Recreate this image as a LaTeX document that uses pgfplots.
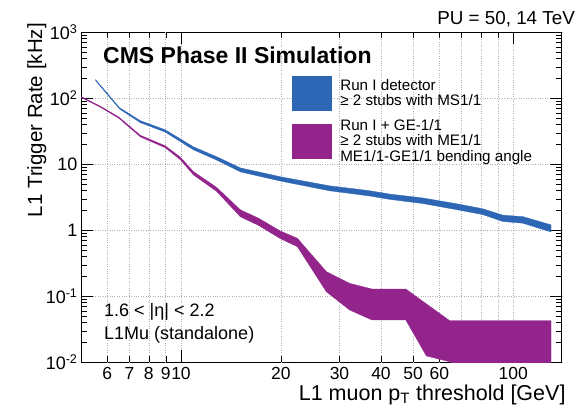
\documentclass[border=0pt]{standalone}
\usepackage{fontspec}
\setmainfont{Liberation Sans}
\usepackage{pgfplots}
\pgfplotsset{compat=1.18}
\definecolor{cmsblue}{RGB}{44,102,180}
\definecolor{cmspurple}{RGB}{147,36,140}
\begin{document}
\begin{tikzpicture}
\begin{axis}[
  at={(0,0)}, anchor=south west,
  scale only axis, width=480.7bp, height=330bp,
  xmode=log, ymode=log,
  xmin=5, xmax=140, ymin=0.01, ymax=1000,
  axis line style={line width=0.6bp},
  tick align=inside,
  tick style={line width=0.5bp, black},
  major tick length=12bp, minor tick length=6bp,
  xtick={10,100}, xticklabels={10,100},
  extra x ticks={6,7,8,9,20,30,40,50,60},
  extra x tick labels={6,7,8,9,20,30,40,50,60},
  extra x tick style={grid=major, major tick length=6bp},
  minor xtick={70,80,90},
  ytick={0.01,0.1,1,10,100,1000},
  yticklabels={10\textsuperscript{-2},10\textsuperscript{-1},1,10,10\textsuperscript{2},10\textsuperscript{3}},
  minor ytick={0.02,0.03,0.04,0.05,0.06,0.07,0.08,0.09,0.2,0.3,0.4,0.5,0.6,0.7,0.8,0.9,2,3,4,5,6,7,8,9,20,30,40,50,60,70,80,90,200,300,400,500,600,700,800,900},
  xmajorgrids, xminorgrids, ymajorgrids,
  major grid style={dotted, gray!60, line width=0.6bp},
  minor grid style={dotted, gray!60, line width=0.6bp},
  tick label style={font=\fontsize{18bp}{21bp}\selectfont},
  xticklabel style={anchor=north, inner sep=0pt, text depth=0pt, yshift=-5bp, font=\fontsize{17.5bp}{20bp}\selectfont},
  legend style={at={(axis description cs:0.4389,0.8676)}, anchor=north west,
    draw=none, fill=none, inner sep=0pt, outer sep=0pt,
    font=\fontsize{15.2bp}{15.5bp}\selectfont,
    nodes={inner sep=0pt}, column sep=9bp, row sep=9bp,
    cells={align=left}},
  legend cell align=left,
  legend image code/.code={\path[#1] (0bp,-17bp) rectangle (39bp,17bp);},
]
\addplot[fill=cmsblue, draw=cmsblue, line width=0.3bp] coordinates {
(5.53,192.5) (6.53,72.1) (7.55,45.7) (8.97,33.3) (10.9,18.39) (12.8,13.03) (15.1,8.81) (20,6.45) (28,4.72) (37,3.98) (42.5,3.54) (53.5,3.09) (67.4,2.53) (81,2.12) (93,1.70) (107,1.61) (130,1.21)
(130,0.944) (107,1.28) (93,1.36) (81,1.73) (67.4,2.06) (53.5,2.54) (42.5,2.94) (37,3.31) (28,3.97) (20,5.55) (15.1,7.67) (12.8,11.61) (10.9,16.58) (8.97,30.7) (7.55,42.7) (6.53,68.9) (5.53,186.0)
} -- cycle;
\addlegendentry{Run I detector\\≥ 2 stubs with MS1/1}
\addplot[fill=cmspurple, draw=cmspurple, line width=0.3bp] coordinates {
(5,106.5) (5.72,75.9) (6.5,52.0) (7.55,27.5) (8.97,19.05) (9.95,12.88) (10.9,7.76) (12.8,4.47) (15.1,2.04) (17.1,1.53) (19.9,0.977) (22.4,0.757) (27.4,0.236) (32.2,0.157) (37.6,0.129) (47.5,0.129) (64.4,0.0427) (130,0.0427)
(130,0.008) (70,0.008) (64.4,0.0102) (54.8,0.01247) (47.5,0.0438) (37.6,0.0438) (32.2,0.0619) (27.4,0.117) (22.4,0.565) (19.9,0.750) (17.1,1.19) (15.1,1.60) (12.8,3.89) (10.9,6.92) (9.95,11.75) (8.97,17.8) (7.55,26.0) (6.5,49.7) (5.72,73.3) (5,102.9)
} -- cycle;
\addlegendentry{Run I + GE-1/1\\≥ 2 stubs with ME1/1\\ME1/1-GE1/1 bending angle}
\end{axis}
\node[anchor=base west, inner sep=0, font=\bfseries\fontsize{23bp}{27bp}\selectfont] at (22bp,299bp) {CMS Phase II Simulation};
\node[anchor=base east, inner sep=0, font=\fontsize{18.8bp}{22bp}\selectfont] at (494bp,337.3bp) {PU = 50, 14 TeV};
\node[anchor=base west, inner sep=0, font=\fontsize{18bp}{21bp}\selectfont] at (23bp,45.6bp) {1.6 < |η| < 2.2};
\node[anchor=base west, inner sep=0, font=\fontsize{18bp}{21bp}\selectfont] at (23bp,23bp) {L1Mu (standalone)};
\node[anchor=base east, inner sep=0, text height=13bp, font=\fontsize{21.5bp}{25bp}\selectfont] at (484.7bp,-38bp) {L1 muon p\textsubscript{T} threshold [GeV]};
\node[anchor=base east, inner sep=0, rotate=90, font=\fontsize{20.5bp}{24bp}\selectfont] at (-39bp,339.3bp) {L1 Trigger Rate [kHz]};
\pgfresetboundingbox
\useasboundingbox (-81bp,-47.7bp) rectangle (496bp,362.3bp);
\end{tikzpicture}
\end{document}
